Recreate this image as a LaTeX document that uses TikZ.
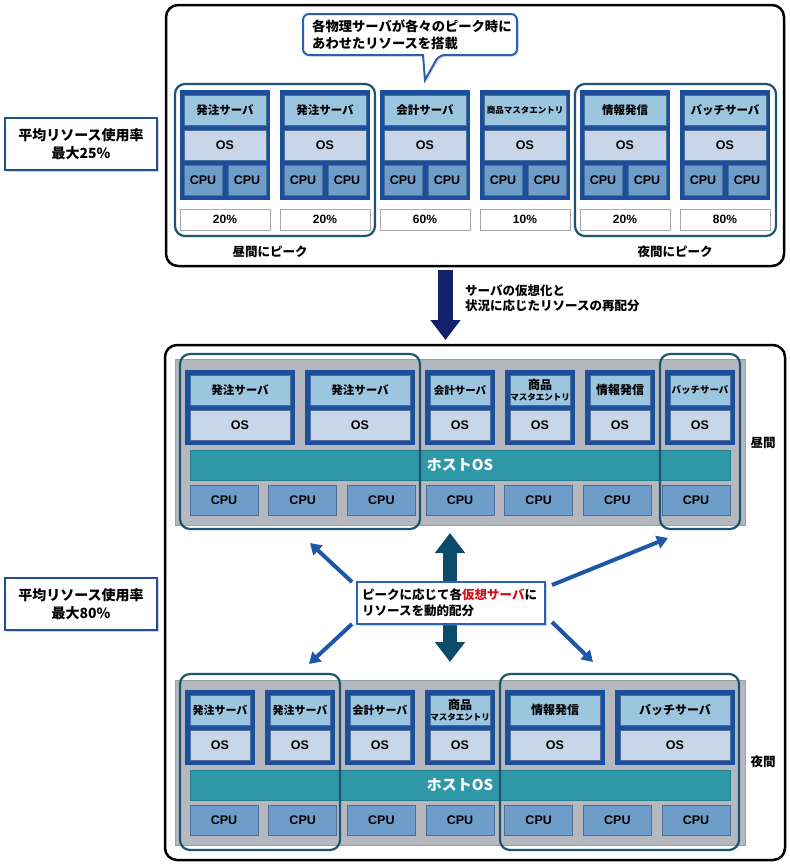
\documentclass[tikz,border=0pt]{standalone}
\usepackage{fontspec}
\setmainfont{Noto Sans CJK JP}
\newfontfamily\lat{Liberation Sans}
\usetikzlibrary{arrows.meta,shadows}
\definecolor{srvblue}{HTML}{1B4F9C}
\definecolor{namebl}{HTML}{9CC5DF}
\definecolor{osbl}{HTML}{C9D5E8}
\definecolor{cpubl}{HTML}{6E9DC9}
\definecolor{hostgray}{HTML}{B6B8C0}
\definecolor{hostline}{HTML}{9A9DA5}
\definecolor{hostos}{HTML}{2E98A8}
\definecolor{hostosline}{HTML}{257E8B}
\definecolor{grpcol}{HTML}{1D5570}
\definecolor{navyarr}{HTML}{13216A}
\definecolor{tealarr}{HTML}{0C4B69}
\definecolor{diagarr}{HTML}{1E57A9}
\definecolor{lblborder}{HTML}{1F4F90}
\definecolor{redtxt}{HTML}{D0121B}
\definecolor{innerline}{HTML}{4A6E98}
\definecolor{pctline}{HTML}{A8A8A8}
\definecolor{callblue}{HTML}{2C5FAE}
\definecolor{msgblue}{HTML}{2A62B4}
\tikzset{
 every node/.style={execute at begin node=\bfseries},
 bx/.style={anchor=north west, inner sep=0pt, outer sep=0pt, align=center},
 outerbox/.style={bx, draw=black, line width=2.5pt, rounded corners=12pt, fill=white},
 srv/.style={bx, fill=srvblue},
 namebx/.style={bx, fill=namebl, draw=innerline, line width=0.6pt},
 osbx/.style={bx, fill=osbl, draw=innerline, line width=0.6pt, font=\lat\bfseries\fontsize{12.5}{14}\selectfont},
 cpubx/.style={bx, fill=cpubl, draw=innerline, line width=0.6pt, font=\lat\bfseries\fontsize{12.5}{14}\selectfont},
 pctbx/.style={bx, fill=white, draw=pctline, line width=0.8pt, font=\lat\bfseries\fontsize{12}{14}\selectfont},
 hostbx/.style={bx, fill=hostgray, draw=hostline, line width=1pt},
 hostosbx/.style={bx, fill=hostos, draw=hostosline, line width=0.6pt, text=white, font=\bfseries\fontsize{15}{17}\selectfont},
 grp/.style={bx, draw=grpcol, line width=2.2pt, rounded corners=10pt},
 lbl/.style={inner sep=0pt, font=\fontsize{12.5}{15}\selectfont},
 nmA/.style={font=\fontsize{11.5}{13}\selectfont},
 nmB/.style={font=\fontsize{10.5}{12}\selectfont},
 nmC/.style={font=\fontsize{12}{11}\selectfont},
 nmD/.style={font=\fontsize{9.5}{11}\selectfont},
 nmE/.style={font=\fontsize{12}{14}\selectfont},
 nmF/.style={font=\fontsize{11}{13}\selectfont},
 nmS/.style={font=\fontsize{8.5}{10}\selectfont},
 sidelbl/.style={draw=lblborder, line width=2pt, fill=white, minimum width=152pt, minimum height=52pt, align=center, inner sep=0pt,
   font=\fontsize{14}{18}\selectfont, drop shadow={shadow xshift=2pt, shadow yshift=-2pt, opacity=0.35}},
 downarr/.style={draw=navyarr, line width=15pt, -{Triangle[width=29pt,length=20pt]}},
 dblarr/.style={draw=tealarr, line width=14pt, {Triangle[width=29pt,length=20pt]}-{Triangle[width=29pt,length=20pt]}},
 diagarrow/.style={draw=diagarr, line width=4pt, -{Triangle[width=13pt,length=11pt]}},
}
\newcommand\topsrv[5]{%
 \node[srv, minimum width=90pt, minimum height=110pt] (#1) at (#2,90) {};
 \node[namebx, #3, minimum width=82pt, minimum height=30pt] (#1-n) at (#2+4,95) {#4};
 \node[osbx, minimum width=82pt, minimum height=30pt] (#1-os) at (#2+4,130) {OS};
 \node[cpubx, minimum width=38pt, minimum height=30pt] (#1-c1) at (#2+4,165) {CPU};
 \node[cpubx, minimum width=38pt, minimum height=30pt] (#1-c2) at (#2+48,165) {CPU};
 \node[pctbx, minimum width=90pt, minimum height=21pt] (#1-p) at (#2,209) {#5\%};
}
\newcommand\vmsrv[6]{%
 \node[srv, minimum width=#4pt, minimum height=75pt] (#1) at (#2,#3) {};
 \node[namebx, #5, minimum width=#4pt-10pt, minimum height=30pt] (#1-n) at (#2+5,#3+5) {#6};
 \node[osbx, minimum width=#4pt-10pt, minimum height=30pt] (#1-os) at (#2+5,#3+40) {OS};
}
\begin{document}
\begin{tikzpicture}[x=1pt,y=-1pt]
\fill[white] (0,0) rectangle (790,865);
\useasboundingbox (0,0) rectangle (790,865);

% ---------- top section ----------
\node[outerbox, minimum width=618pt, minimum height=261pt] (topbox) at (166,5) {};
\topsrv{s1}{180}{nmA}{発注サーバ}{20}
\topsrv{s2}{280}{nmA}{発注サーバ}{20}
\topsrv{s3}{380}{nmA}{会計サーバ}{60}
\topsrv{s4}{480}{nmS}{商品マスタエントリ}{10}
\topsrv{s5}{580}{nmA}{情報発信}{20}
\topsrv{s6}{680}{nmA}{バッチサーバ}{80}
\node[grp, minimum width=200pt, minimum height=152pt] (tg1) at (175,84) {};
\node[grp, minimum width=201pt, minimum height=152pt] (tg2) at (575,84) {};
\node[lbl] (tday) at (270,252) {昼間にピーク};
\node[lbl] (tnight) at (675,252) {夜間にピーク};

% callout
\filldraw[fill=white, draw=callblue, line width=2pt, rounded corners=6pt,
  drop shadow={shadow xshift=1.5pt, shadow yshift=-1.5pt, opacity=0.3}]
  (303,14) -- (517,14) -- (517,55) -- (439,55) [sharp corners] -- (425,80) -- (423,55) [rounded corners=6pt] -- (303,55) -- cycle;
\node[anchor=west, align=left, inner sep=0pt, font=\fontsize{13.3}{17}\selectfont] (callt) at (312,34.5)
  {各物理サーバが各々のピーク時に\\あわせたリソースを搭載};

% side labels
\node[sidelbl] (avg1) at (81,144) {平均リソース使用率\\最大25\%};
\node[sidelbl] (avg2) at (81,604) {平均リソース使用率\\最大80\%};

% ---------- bottom section ----------
\node[outerbox, minimum width=620pt, minimum height=515pt] (botbox) at (165,345) {};

% down arrow
\coordinate (ax) at (445.5,0);
\draw[downarr] ([yshift=-4pt]topbox.south -| ax) -- ([yshift=5pt]botbox.north -| ax);
\node[anchor=west, align=left, inner sep=0pt, font=\fontsize{12.5}{15}\selectfont] (virt) at (465,298)
  {サーバの仮想化と\\状況に応じたリソースの再配分};

% upper host (daytime)
\node[hostbx, minimum width=570pt, minimum height=166pt] (uhost) at (175,359) {};
\vmsrv{u1}{185}{370}{110}{nmA}{発注サーバ}
\vmsrv{u2}{305}{370}{110}{nmA}{発注サーバ}
\vmsrv{u3}{425}{370}{70}{nmB}{会計サーバ}
\vmsrv{u4}{505}{370}{70}{nmC}{商品\\{\fontsize{8.5}{9}\selectfont マスタエントリ}}
\vmsrv{u5}{585}{370}{70}{nmE}{情報発信}
\vmsrv{u6}{665}{370}{70}{nmD}{バッチサーバ}
\node[hostosbx, minimum width=540pt, minimum height=30pt] (uos) at (190,450) {ホストOS};
\foreach \i in {0,...,6} {\node[cpubx, minimum width=68pt, minimum height=30pt] (uc\i) at ({190+\i*78.67},485) {CPU};}
\node[grp, minimum width=240pt, minimum height=175pt] (ug1) at (180,354) {};
\node[grp, minimum width=80pt, minimum height=175pt] (ug2) at (660,354) {};
\node[lbl] (lday) at (763,443) {昼間};

% lower host (night)
\node[hostbx, minimum width=570pt, minimum height=165pt] (lhost) at (175,680) {};
\vmsrv{l1}{185}{690}{70}{nmF}{発注サーバ}
\vmsrv{l2}{265}{690}{70}{nmF}{発注サーバ}
\vmsrv{l3}{345}{690}{70}{nmF}{会計サーバ}
\vmsrv{l4}{425}{690}{70}{nmC}{商品\\{\fontsize{8.5}{9}\selectfont マスタエントリ}}
\vmsrv{l5}{505}{690}{100}{nmE}{情報発信}
\vmsrv{l6}{615}{690}{120}{nmE}{バッチサーバ}
\node[hostosbx, minimum width=540pt, minimum height=30pt] (los) at (190,770) {ホストOS};
\foreach \i in {0,...,6} {\node[cpubx, minimum width=68pt, minimum height=30pt] (lc\i) at ({190+\i*78.67},805) {CPU};}
\node[grp, minimum width=160pt, minimum height=176pt] (lg1) at (180,674) {};
\node[grp, minimum width=239pt, minimum height=176pt] (lg2) at (500,674) {};
\node[lbl] (lnight) at (763,762) {夜間};

% middle arrows and message
\coordinate (dx) at (450,0);
\draw[dblarr] ([yshift=-8pt]uhost.south -| dx) -- ([yshift=18pt]lhost.north -| dx);
\node[bx, fill=white, draw=msgblue, line width=2pt, minimum width=188pt, minimum height=42pt,
  drop shadow={shadow xshift=2pt, shadow yshift=-2pt, opacity=0.35}] (msg) at (357,582) {};
\node[anchor=west, align=left, inner sep=0pt, font=\fontsize{12.5}{16}\selectfont] (msgt) at (362,603)
  {ピークに応じて各{\color{redtxt}仮想サーバ}に\\リソースを動的配分};
\coordinate (a1e) at (310,543);
\coordinate (a2e) at (668,538);
\coordinate (a3e) at (309,664);
\coordinate (a4e) at (593,662);
\draw[diagarrow] ([xshift=-5pt]msg.north west) -- (a1e);
\draw[diagarrow] ([xshift=7pt,yshift=-3pt]msg.north east) -- (a2e);
\draw[diagarrow] ([xshift=-5pt]msg.south west) -- (a3e);
\draw[diagarrow] ([xshift=7pt,yshift=2pt]msg.south east) -- (a4e);
\end{tikzpicture}
\end{document}
